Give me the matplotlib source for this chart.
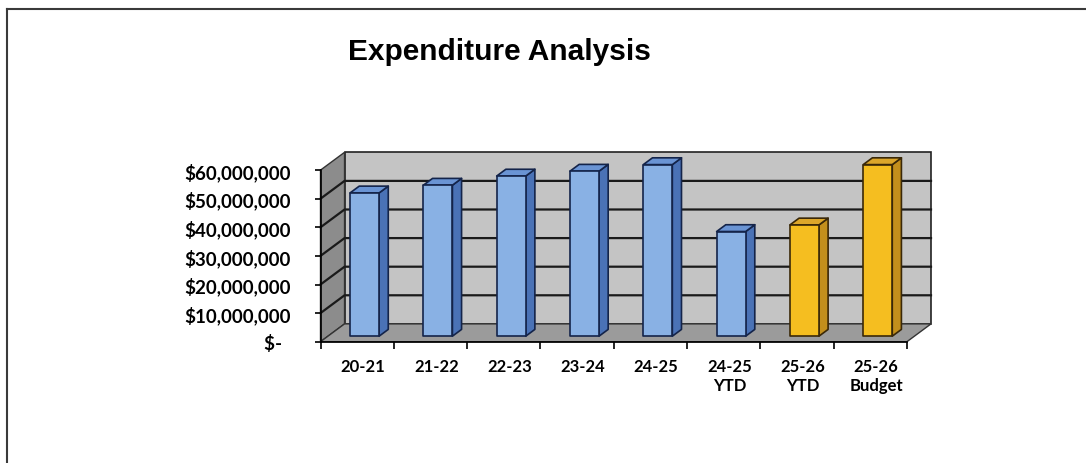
import numpy as np
import matplotlib
matplotlib.use('Agg')
import matplotlib.pyplot as plt
from matplotlib.patches import Polygon
from matplotlib.lines import Line2D

# expenditure per year (dollars)
categories = ['20-21', '21-22', '22-23', '23-24', '24-25',
              '24-25\nYTD', '25-26\nYTD', '25-26\nBudget']
expenditure = [50.1e6, 52.8e6, 56.0e6, 57.7e6, 60.0e6, 36.6e6, 38.9e6, 60.0e6]
current_year = [False, False, False, False, False, False, True, True]

y_ticks = [0, 10e6, 20e6, 30e6, 40e6, 50e6, 60e6]
y_ticklabels = ['$-  ', '$10,000,000', '$20,000,000', '$30,000,000',
                '$40,000,000', '$50,000,000', '$60,000,000']

# fake 3d depth (category units / dollars)
DX = 0.328
DY = 6.23e6
W = 0.396
Z0, Z1 = 0.31, 0.69
YMAX = y_ticks[-1]

colors = {False: ('#89b1e4', '#4a72b6', '#6a94d4', '#14244a'),
          True: ('#f5be20', '#c38f1c', '#dca62a', '#3a2808')}

fig = plt.figure(figsize=(10.86, 4.64), dpi=100, facecolor='white')
ax = fig.add_axes([320.5/1086, (464-342.7)/464, (931-320.5)/1086, (342.7-153.3)/464])
n = len(categories)
x0, x1 = -0.5, n - 0.5
ax.set_xlim(x0, x1 + DX)
ax.set_ylim(0, YMAX + DY)
ax.patch.set_visible(False)

# walls and floor
back = Polygon([(x0+DX, DY), (x1+DX, DY), (x1+DX, YMAX+DY), (x0+DX, YMAX+DY)],
               facecolor='#c4c4c4', edgecolor='#222222', lw=1.2, clip_on=False, zorder=1)
side = Polygon([(x0, 0), (x0+DX, DY), (x0+DX, YMAX+DY), (x0, YMAX)],
               facecolor='#8c8c8c', edgecolor='#333333', lw=1.0, clip_on=False, zorder=1)
floor = Polygon([(x0, 0), (x1, 0), (x1+DX, DY), (x0+DX, DY)],
                facecolor='#9b9b9b', edgecolor='#333333', lw=1.0, clip_on=False, zorder=1)
for p in (back, side, floor):
    ax.add_patch(p)

for t in y_ticks[1:-1]:
    ax.plot([x0, x0+DX, x1+DX], [t, t+DY, t+DY], color='#1a1a1a', lw=1.6,
            clip_on=False, zorder=2)

# bars
for i, (v, cur) in enumerate(zip(expenditure, current_year)):
    front_c, side_c, top_c, edge_c = colors[cur]
    xl = i - W/2 + Z0*DX
    xr = i + W/2 + Z0*DX
    yb = Z0*DY
    yt = v + Z0*DY
    ddx = (Z1 - Z0)*DX
    ddy = (Z1 - Z0)*DY
    faces = [
        ([(xr, yb), (xr+ddx, yb+ddy), (xr+ddx, yt+ddy), (xr, yt)], side_c),
        ([(xl, yt), (xr, yt), (xr+ddx, yt+ddy), (xl+ddx, yt+ddy)], top_c),
        ([(xl, yb), (xr, yb), (xr, yt), (xl, yt)], front_c),
    ]
    for pts, c in faces:
        ax.add_patch(Polygon(pts, facecolor=c, edgecolor=edge_c, lw=1.2,
                             joinstyle='round', clip_on=False, zorder=4))

# axes
for s in ['top', 'right']:
    ax.spines[s].set_visible(False)
ax.spines['left'].set_bounds(0, YMAX)
ax.spines['bottom'].set_bounds(x0, x1)
ax.spines['left'].set_linewidth(1.2)
ax.spines['bottom'].set_linewidth(1.2)
ax.spines['left'].set_zorder(3)
ax.spines['bottom'].set_zorder(3)

lab_font = 'Lato'
ax.set_yticks(y_ticks)
ax.set_yticklabels(y_ticklabels, fontfamily=lab_font, fontweight='bold', fontsize=13.5)
ax.tick_params(axis='y', length=4.5, width=1.2, direction='out', pad=17)

ax.set_xticks(np.arange(x0, x1 + 0.01, 1.0))
ax.set_xticklabels([])
ax.tick_params(axis='x', which='major', length=5, width=1.2, direction='out')
ax.set_xticks(np.arange(n) + 0.08, minor=True)
ax.set_xticklabels(categories, minor=True, fontfamily=lab_font, fontweight='bold', fontsize=12)
ax.tick_params(axis='x', which='minor', length=0, pad=12)

# title
fig.text(499/1086, 1 - 52/464, 'Expenditure Analysis', ha='center', va='center',
         fontsize=21.5, fontweight='bold',
         family=['Liberation Sans Narrow', 'Liberation Sans', 'DejaVu Sans'])

# page frame
fig.add_artist(Line2D([7/1086, 1], [1 - 10/464, 1 - 10/464], transform=fig.transFigure,
                      color='#3a3a3a', lw=1.5))
fig.add_artist(Line2D([7/1086, 7/1086], [0, 1 - 10/464], transform=fig.transFigure,
                      color='#3a3a3a', lw=1.5))

fig.savefig('out.png', dpi=100)
